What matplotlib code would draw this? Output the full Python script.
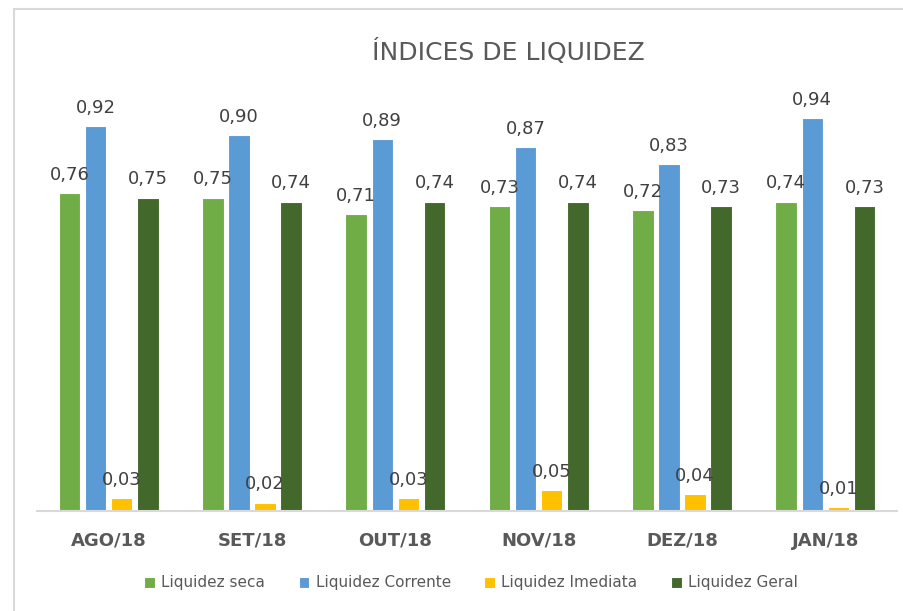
import numpy as np
import matplotlib
matplotlib.use("Agg")
import matplotlib.pyplot as plt
import matplotlib.patches as patches

# data
meses = ["AGO/18", "SET/18", "OUT/18", "NOV/18", "DEZ/18", "JAN/18"]
seca = [0.76, 0.75, 0.71, 0.73, 0.72, 0.74]
corrente = [0.92, 0.90, 0.89, 0.87, 0.83, 0.94]
imediata = [0.03, 0.02, 0.03, 0.05, 0.04, 0.01]
geral = [0.75, 0.74, 0.74, 0.74, 0.73, 0.73]

series = [
    ("Liquidez seca", seca, "#70AD47"),
    ("Liquidez Corrente", corrente, "#5B9BD5"),
    ("Liquidez Imediata", imediata, "#FFC000"),
    ("Liquidez Geral", geral, "#43682B"),
]

W, H = 904, 611
fig = plt.figure(figsize=(W / 100, H / 100), dpi=100)
fig.patch.set_facecolor("white")

# chart border (right and bottom edges fall outside the picture)
fig.add_artist(patches.Rectangle((14 / W, -0.5), 2.0, 1.5 - 9 / H, transform=fig.transFigure,
                                 fill=False, edgecolor="#d9d9d9", lw=1.5))

ax = fig.add_axes([37 / W, 100 / H, 860 / W, 418 / H])
x = np.arange(len(meses))
step = 0.182
width = 0.15

for i, (name, vals, col) in enumerate(series):
    pos = x + (i - 1.5) * step
    ax.bar(pos, vals, width, color=col, edgecolor="white", linewidth=0.8, label=name)
    for xp, v in zip(pos, vals):
        ax.annotate(("%.2f" % v).replace(".", ","), (xp, v), xytext=(0, 9.5),
                    textcoords="offset points", ha="center", va="baseline",
                    fontsize=13, color="#404040")

ax.set_xlim(-0.5, len(meses) - 0.5)
ax.set_ylim(0, 1)
ax.set_yticks([])
ax.set_xticks(x)
ax.set_xticklabels(meses, fontsize=13, fontweight="bold", color="#595959")
ax.tick_params(axis="x", length=0, pad=15)
for s in ["top", "right", "left"]:
    ax.spines[s].set_visible(False)
ax.spines["bottom"].set_color("#d9d9d9")
ax.spines["bottom"].set_linewidth(1.5)

fig.text(508 / W, 1 - 60 / H, "ÍNDICES DE LIQUIDEZ", ha="center", va="baseline",
         fontsize=18, color="#595959")

leg = fig.legend(loc="center", bbox_to_anchor=(471 / W, 1 - 583 / H), ncol=4,
                 frameon=False, fontsize=11, handlelength=0.7, handleheight=0.7,
                 handletextpad=0.4, columnspacing=2.2)
for t in leg.get_texts():
    t.set_color("#595959")

fig.savefig("out.png", dpi=100)
